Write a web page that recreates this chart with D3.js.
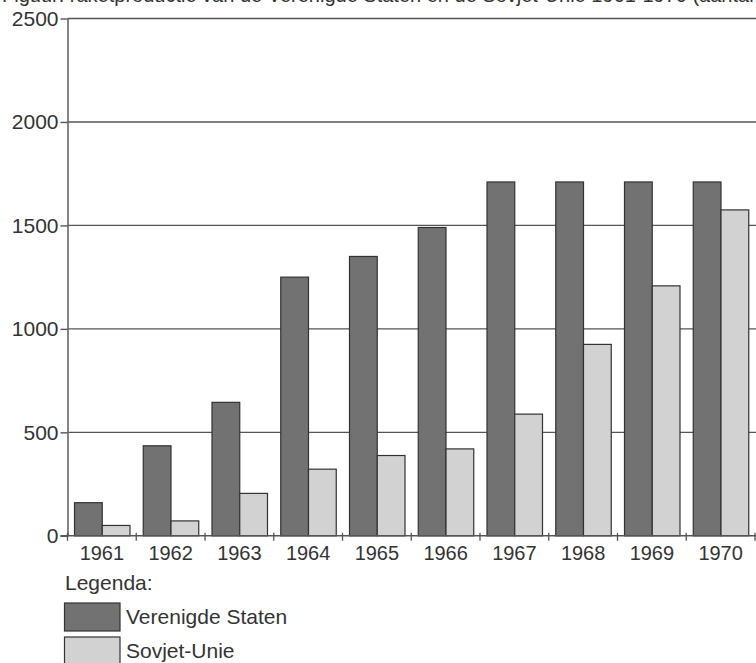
<!DOCTYPE html>
<html>
<head>
<meta charset="utf-8">
<script src="https://cdn.jsdelivr.net/npm/d3@7"></script>
<style>
  html, body { margin: 0; padding: 0; background: #fff; }
  svg { display: block; }
  text { font-family: "Liberation Sans", Arial, sans-serif; fill: #333; }
</style>
</head>
<body>
<script>
const years = ["1961","1962","1963","1964","1965","1966","1967","1968","1969","1970"];
const usValues = [160, 435, 645, 1250, 1350, 1490, 1710, 1710, 1710, 1710];
const suValues = [50, 72, 205, 322, 388, 420, 588, 925, 1208, 1575];
const seriesNames = ["Verenigde Staten", "Sovjet-Unie"];
const seriesColors = ["#727272", "#d2d2d2"];
const yTicks = [0, 500, 1000, 1500, 2000, 2500];
const titleText = "Figuur: raketproductie van de Verenigde Staten en de Sovjet-Unie 1961-1970 (aantal per jaar)";

const W = 756, H = 663;
const FONT = "'Liberation Sans', Arial, sans-serif";
const svg = d3.select("body").append("svg").attr("width", W).attr("height", H);

const x0 = d3.scaleBand().domain(years).range([67.5, 755]).padding(0);
const x1 = d3.scaleBand().domain(["us", "su"]).range([7, 62.5]).padding(0);
const y = d3.scaleLinear().domain([0, 2500]).range([535.8, 18.5]);

// title (cut off at top edge, as in the reference)
svg.append("text").attr("x", 2).attr("y", 1.5).attr("font-size", 20).text(titleText);

// gridlines
svg.append("g").selectAll("line").data(yTicks.filter(d => d > 0)).join("line")
  .attr("x1", 67.5).attr("x2", W).attr("y1", d => y(d)).attr("y2", d => y(d))
  .attr("stroke", "#555").attr("stroke-width", 1.4);

// bars
const data = years.map((yr, i) => ({ year: yr, vals: [{ k: "us", v: usValues[i], c: seriesColors[0] }, { k: "su", v: suValues[i], c: seriesColors[1] }] }));
const groups = svg.append("g").selectAll("g").data(data).join("g")
  .attr("transform", d => `translate(${x0(d.year)},0)`);
groups.selectAll("rect").data(d => d.vals).join("rect")
  .attr("x", d => x1(d.k)).attr("width", x1.bandwidth())
  .attr("y", d => y(d.v)).attr("height", d => y(0) - y(d.v))
  .attr("fill", d => d.c).attr("stroke", "#333").attr("stroke-width", 1.2);

// y axis
const yAxis = svg.append("g").attr("transform", "translate(67.5,0)")
  .call(d3.axisLeft(y).tickValues(yTicks).tickFormat(d3.format("d")).tickSize(7).tickSizeOuter(0).tickPadding(2));
yAxis.select(".domain").attr("stroke", "#666").attr("stroke-width", 1.6);
yAxis.selectAll(".tick line").attr("stroke", "#555").attr("stroke-width", 1.4);
yAxis.selectAll(".tick text").attr("font-size", 21).attr("fill", "#333").style("font-family", FONT);

// x axis baseline
svg.append("line").attr("x1", 60.5).attr("x2", W).attr("y1", y(0)).attr("y2", y(0))
  .attr("stroke", "#555").attr("stroke-width", 1.5);
// boundary ticks
const bounds = years.map(d => x0(d)).concat([x0(years[years.length - 1]) + x0.bandwidth()]);
svg.append("g").selectAll("line").data(bounds).join("line")
  .attr("x1", d => d).attr("x2", d => d).attr("y1", y(0) - 3).attr("y2", y(0) + 5)
  .attr("stroke", "#555").attr("stroke-width", 1.3);
// year labels
const xAxis = svg.append("g").attr("transform", `translate(0,${y(0)})`)
  .call(d3.axisBottom(x0).tickSize(0).tickPadding(10));
xAxis.select(".domain").remove();
xAxis.selectAll(".tick text").attr("font-size", 20).attr("fill", "#333").style("font-family", FONT);

// legend
svg.append("text").attr("x", 65).attr("y", 589.5).attr("font-size", 21).text("Legenda:");
const leg = svg.append("g").selectAll("g").data(seriesNames).join("g")
  .attr("transform", (d, i) => `translate(64.5,${603 + i * 34})`);
leg.append("rect").attr("width", 55.5).attr("height", 28)
  .attr("fill", (d, i) => seriesColors[i]).attr("stroke", "#333").attr("stroke-width", 1.2);
leg.append("text").attr("x", 61.5).attr("y", 21).attr("font-size", 21).text(d => d);
</script>
</body>
</html>
